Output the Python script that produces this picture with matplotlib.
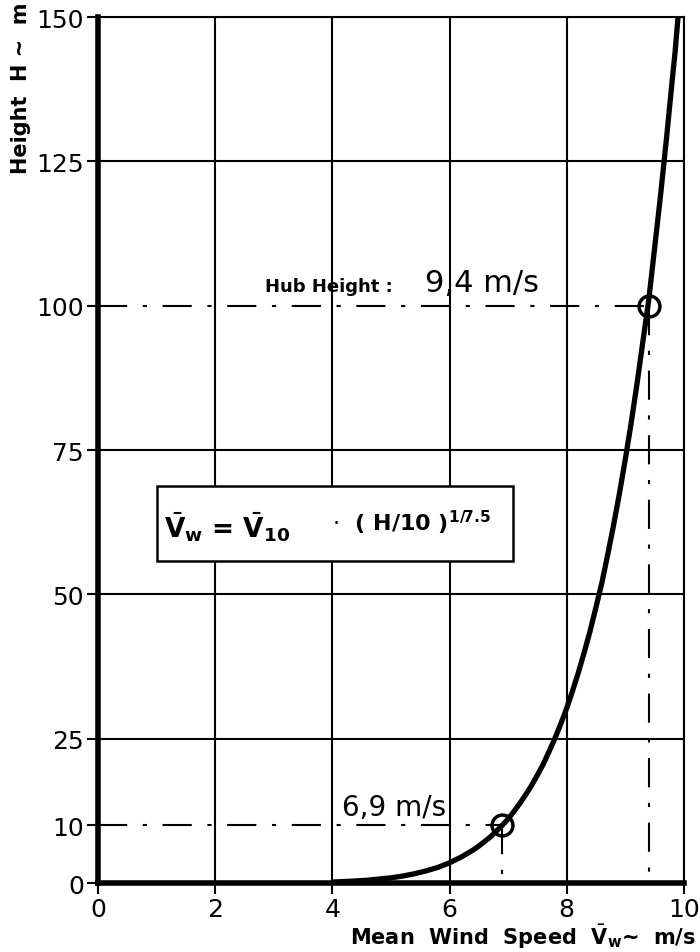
import numpy as np
import matplotlib.pyplot as plt
from matplotlib.patches import Rectangle

# wind speed profile (m/s vs m)
speed = [4.0, 4.3, 4.6, 4.8, 5.0, 5.2, 5.4, 5.6, 5.8, 6.0, 6.2, 6.4, 6.5, 6.7, 6.9,
         7.0, 7.1, 7.2, 7.3, 7.4, 7.5, 7.6, 7.7, 7.8, 7.9, 8.0, 8.1, 8.2, 8.3, 8.4,
         8.5, 8.6, 8.7, 8.8, 8.9, 9.0, 9.1, 9.2, 9.3, 9.4, 9.5, 9.6, 9.7, 9.8, 9.85, 9.9]
height = [0.17, 0.3, 0.48, 0.7, 0.89, 1.2, 1.6, 2.1, 2.7, 3.5, 4.5, 5.7, 6.4, 8.0, 10,
          11.1, 12.4, 13.8, 15.3, 16.9, 18.7, 20.6, 22.8, 25.1, 27.6, 30.3, 33.3, 36.5, 40, 43.7,
          47.8, 52, 56.9, 62.0, 67.5, 73.4, 79.7, 86.5, 93.8, 101, 110, 119, 128.7, 139, 144, 150]

# marked points
mark_speed = [6.9, 9.4]
mark_height = [10, 100]

x_ticks = [0, 2, 4, 6, 8, 10]
y_ticks = [0, 10, 25, 50, 75, 100, 125, 150]
grid_x = [2, 4, 6, 8, 10]
grid_y = [25, 50, 75, 125, 150]

plt.rcParams['font.family'] = ['DejaVu Sans']
fig = plt.figure(figsize=(7, 9.53), dpi=100)
ax = fig.add_axes([0.14, 0.0724, 0.837, 0.9086])

ax.set_xlim(0, 10)
ax.set_ylim(0, 150)

for gx in grid_x:
    ax.axvline(gx, color='black', lw=1.5, zorder=1)
for gy in grid_y:
    ax.axhline(gy, color='black', lw=1.5, zorder=1)

# dash-dot guide lines to the marked points
dd = dict(color='black', lw=1.5, dashes=(14, 7.5, 2, 7.5), zorder=2)
for sx, hy in zip(mark_speed, mark_height):
    ax.plot([0, sx], [hy, hy], **dd)
    ax.plot([sx, sx], [hy, 0], **dd)

ax.plot(speed, height, color='black', lw=3.8, solid_capstyle='butt',
        solid_joinstyle='round', zorder=3)
ax.plot(mark_speed, mark_height, 'o', ms=15, mfc='none', mec='black', mew=2.5, zorder=4)

# formula box
ax.add_patch(Rectangle((1.0, 55.8), 6.08, 13.0, facecolor='white', edgecolor='black', lw=1.8, zorder=5))
ax.text(1.12, 61.8, r'$\bar{\mathbf{V}}_\mathbf{w}$' + ' = ' + r'$\bar{\mathbf{V}}_{\mathbf{10}}$',
        fontsize=19, fontweight='bold', va='center', zorder=6)
ax.text(4.0, 62.5, r'$\cdot$  ( H/10 )$^{\mathbf{1/7.5}}$',
        fontsize=16, fontweight='bold', va='center', zorder=6)

ax.text(2.85, 102.6, 'Hub Height :', fontsize=13, fontweight='bold', zorder=6)
ax.text(5.58, 102.6, '9,4 m/s', fontsize=22, zorder=6)
ax.text(4.16, 11.8, '6,9 m/s', fontsize=20, zorder=6)

ax.set_xticks(x_ticks)
ax.set_yticks(y_ticks)
ax.tick_params(axis='both', direction='out', length=8, width=1.5, labelsize=18, pad=2)
ax.spines['left'].set_linewidth(4)
ax.spines['bottom'].set_linewidth(4)
ax.spines['top'].set_linewidth(1.5)
ax.spines['right'].set_linewidth(1.5)

fig.text(0.03, 0.997, 'Height  H ~  m', rotation=90, fontsize=15, fontweight='bold',
         ha='center', va='top')
fig.text(0.995, 0.002, r'Mean  Wind  Speed  $\bar{\mathbf{V}}_\mathbf{w}$~  m/s', fontsize=15,
         fontweight='bold', ha='right', va='bottom')

fig.savefig('out.png', dpi=100)
